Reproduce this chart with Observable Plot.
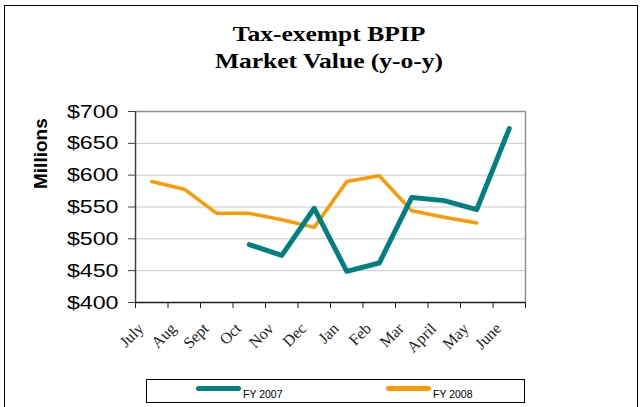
<!DOCTYPE html>
<html>
<head>
<meta charset="utf-8">
<script src="https://cdn.jsdelivr.net/npm/d3@7"></script>
<script src="https://cdn.jsdelivr.net/npm/@observablehq/plot@0.6"></script>
<style>
  html, body { margin: 0; padding: 0; background: #fff; }
  #wrap { position: relative; width: 644px; height: 407px; overflow: hidden; }
  #frame { position: absolute; left: 4px; top: 5px; width: 634px; height: 420px; border: 1px solid #000; box-sizing: border-box; }
  #title { position: absolute; left: 0; width: 658px; top: 20px; text-align: center; font-family: "Liberation Serif", serif; font-weight: bold; font-size: 22px; line-height: 27px; color: #000; transform: scaleX(1.16); transform-origin: 329px 0; }
  #chart { position: absolute; left: 0; top: 0; }
  #legend { position: absolute; left: 146px; top: 379px; width: 379px; height: 24px; border: 1px solid #000; box-sizing: border-box; font-family: "Liberation Sans", Arial, sans-serif; font-size: 10.5px; color: #000; }
  .sw { position: absolute; top: 6px; width: 45px; height: 5px; border-radius: 3px; }
  .lb { position: absolute; top: 8px; white-space: nowrap; }
</style>
</head>
<body>
<div id="wrap">
  <div id="frame"></div>
  <div id="title">Tax-exempt BPIP<br>Market Value (y-o-y)</div>
  <div id="chart"></div>
  <div id="legend"></div>
</div>
<script>
const months = ["July","Aug","Sept","Oct","Nov","Dec","Jan","Feb","Mar","April","May","June"];
const fy2007 = [null, null, null, 491, 474, 548, 449, 462, 565, 560, 546, 673];
const fy2008 = [590, 578, 540, 540, 530, 518, 590, 599, 544, 534, 525, null];
const yTicks = [400, 450, 500, 550, 600, 650, 700];
const seriesNames = ["FY 2007", "FY 2008"];
const seriesColors = ["#008080", "#ff9900"];

const rows = months.map((m, i) => ({i, m, a: fy2007[i], b: fy2008[i]}));

const chart = Plot.plot({
  width: 644,
  height: 407,
  marginLeft: 135,
  marginRight: 119,
  marginTop: 111,
  marginBottom: 105,
  style: {background: "transparent", overflow: "visible"},
  x: {type: "linear", domain: [0, 12], axis: null},
  y: {domain: [400, 700], axis: null},
  marks: [
    Plot.ruleY(yTicks.slice(1, -1), {stroke: "#c8c8c8", strokeWidth: 1}),
    Plot.ruleY([700], {stroke: "#909090", strokeWidth: 1.5}),
    Plot.ruleX([12], {stroke: "#909090", strokeWidth: 1.5}),
    Plot.axisY({
      ticks: yTicks, tickSize: 7, tickPadding: 10, stroke: "#404040",
      tickFormat: d => "$" + d,
      fontSize: 19, fontFamily: "Liberation Sans, Arial, sans-serif",
      label: null
    }),
    Plot.axisX({
      ticks: d3.range(13), tickSize: 6, tickFormat: () => "", stroke: "#202020", label: null
    }),
    Plot.text(months, {
      x: (d, i) => i + 0.5, frameAnchor: "bottom", rotate: -45, textAnchor: "end",
      dx: -7, dy: 27, fontSize: 16, fontFamily: "Liberation Serif, serif", fill: "#222"
    }),
    Plot.ruleX([0], {stroke: "#404040", strokeWidth: 1.5}),
    Plot.ruleY([400], {stroke: "#202020", strokeWidth: 1.5}),
    Plot.line(rows, {x: d => d.i + 0.5, y: "b", stroke: seriesColors[1], strokeWidth: 3.5, defined: d => d.b != null}),
    Plot.line(rows, {x: d => d.i + 0.5, y: "a", stroke: seriesColors[0], strokeWidth: 5, defined: d => d.a != null}),
    Plot.text(["Millions"], {
      frameAnchor: "left", dx: -95, dy: -18, rotate: -90,
      fontSize: 19, fontWeight: "bold", fontFamily: "Liberation Sans, Arial, sans-serif", fill: "#000"
    })
  ]
});
document.getElementById("chart").appendChild(chart);

// widen the y tick labels like the reference's stretched Arial
d3.select(chart).selectAll("g[aria-label='y-axis tick label'] text").each(function() {
  const len = this.getComputedTextLength();
  this.setAttribute("textLength", (len * 1.22).toFixed(1));
  this.setAttribute("lengthAdjust", "spacingAndGlyphs");
});

const legend = document.getElementById("legend");
const pos = [[49, 96], [239, 286]];
seriesNames.forEach((name, k) => {
  const sw = document.createElement("div");
  sw.className = "sw";
  sw.style.left = pos[k][0] + "px";
  sw.style.background = seriesColors[k];
  const lb = document.createElement("div");
  lb.className = "lb";
  lb.style.left = pos[k][1] + "px";
  lb.textContent = name;
  legend.appendChild(sw);
  legend.appendChild(lb);
});
</script>
</body>
</html>
